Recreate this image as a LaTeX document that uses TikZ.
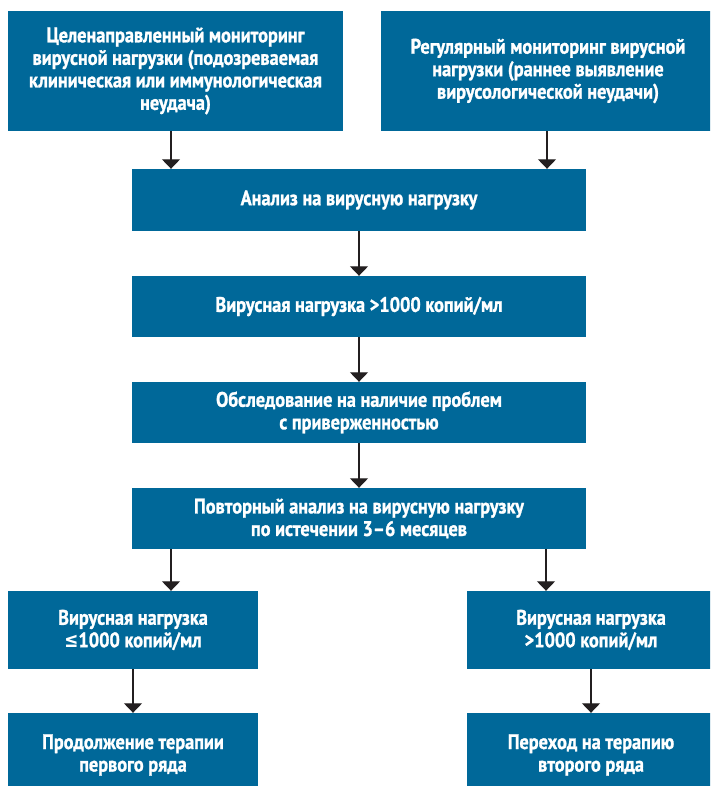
\documentclass[tikz,border=0pt]{standalone}
\usepackage{fontspec}
\newfontfamily\boxfont{PT Sans}[UprightFont={* Bold},FakeStretch=0.87,FakeBold=1.2]
\newfontfamily\relfont{DejaVu Sans}[UprightFont={* Bold},FakeStretch=0.80]
\usetikzlibrary{arrows.meta}
\definecolor{boxblue}{RGB}{0,104,153}
\definecolor{linegray}{RGB}{35,31,32}
\tikzset{
  flowbox/.style={fill=boxblue, draw=none, text=white, align=center,
    font=\boxfont\fontsize{21}{22.5}\selectfont, inner sep=0pt},
  flowarrow/.style={draw=linegray, line width=1.1pt,
    -{Triangle[width=18pt,length=9.5pt]}}
}
\begin{document}
\begin{tikzpicture}[x=1pt,y=-1pt]
\useasboundingbox (0,0) rectangle (710,786);
\clip (0,0) rectangle (710,786);
% top row: two monitoring strategies
\node[flowbox, minimum width=335pt, minimum height=120pt] (targ) at (175.5,71)
  {Целенаправленный мониторинг\\вирусной нагрузки (подозреваемая\\клиническая или иммунологическая\\неудача)};
\node[flowbox, minimum width=334pt, minimum height=120pt] (reg) at (548,71)
  {Регулярный мониторинг вирусной\\нагрузки (раннее выявление\\вирусологической неудачи)};
% central column
\node[flowbox, minimum width=454pt, minimum height=62pt] (test) at (359,200)
  {Анализ на вирусную нагрузку};
\node[flowbox, minimum width=454pt, minimum height=61pt] (high) at (359,306.5)
  {Вирусная нагрузка >1000 копий/мл};
\node[flowbox, minimum width=454pt, minimum height=61pt] (adh) at (359,412.5)
  {Обследование на наличие проблем\\с приверженностью};
\node[flowbox, minimum width=454pt, minimum height=61pt] (retest) at (359,518.5)
  {Повторный анализ на вирусную нагрузку\\по истечении 3–6 месяцев};
% outcomes
\node[flowbox, minimum width=250pt, minimum height=78pt] (low2) at (133,630)
  {Вирусная нагрузка\\{\relfont ≤}1000 копий/мл};
\node[flowbox, minimum width=248pt, minimum height=78pt] (high2) at (591,630)
  {Вирусная нагрузка\\>1000 копий/мл};
\node[flowbox, minimum width=250pt, minimum height=84pt] (first) at (133,755)
  {Продолжение терапии\\первого ряда};
\node[flowbox, minimum width=248pt, minimum height=84pt] (second) at (591,755)
  {Переход на терапию\\второго ряда};
% connectors
\draw[flowarrow] (targ.south -| 171,0) -- (test.north -| 171,0);
\draw[flowarrow] (reg.south -| 547,0) -- (test.north -| 547,0);
\draw[flowarrow] (test) -- (high);
\draw[flowarrow] (high) -- (adh);
\draw[flowarrow] (adh) -- (retest);
\draw[flowarrow] (retest.south -| 171,0) -- (low2.north -| 171,0);
\draw[flowarrow] (retest.south -| 546,0) -- (high2.north -| 546,0);
\draw[flowarrow] (low2) -- (first);
\draw[flowarrow] (high2) -- (second);
\end{tikzpicture}
\end{document}
